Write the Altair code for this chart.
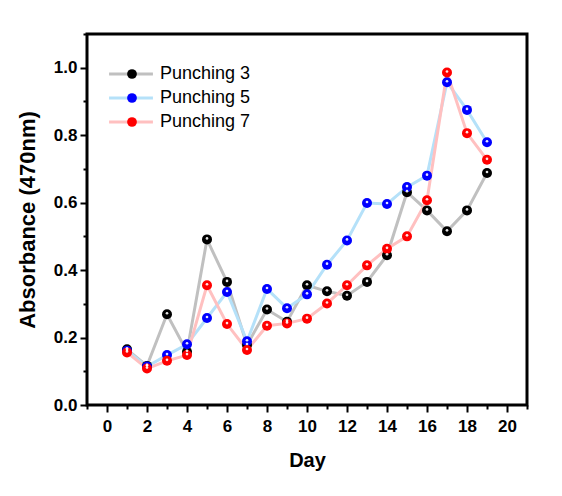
import altair as alt
import pandas as pd

days = list(range(1, 20))
p3 = [0.165, 0.116, 0.269, 0.158, 0.491, 0.365, 0.178, 0.283, 0.247, 0.355,
      0.337, 0.324, 0.365, 0.444, 0.631, 0.577, 0.515, 0.577, 0.688]
p5 = [0.161, 0.114, 0.148, 0.180, 0.258, 0.335, 0.189, 0.344, 0.287, 0.328,
      0.416, 0.488, 0.599, 0.596, 0.646, 0.680, 0.957, 0.875, 0.779]
p7 = [0.156, 0.108, 0.131, 0.148, 0.355, 0.240, 0.163, 0.235, 0.242, 0.256,
      0.301, 0.355, 0.414, 0.463, 0.500, 0.607, 0.986, 0.806, 0.727]
series = ["Punching 3", "Punching 5", "Punching 7"]
line_colors = ["#c0c0c0", "#b5e1f9", "#ffc0c0"]
point_colors = ["#000000", "#0000ff", "#ff0000"]
x_ticks = list(range(-1, 22))
y_ticks = [round(i * 0.1, 1) for i in range(0, 12)]

rows = []
for name, vals in zip(series, [p3, p5, p7]):
    for d, v in zip(days, vals):
        rows.append({"Day": d, "Absorbance": v, "Series": name})
df = pd.DataFrame(rows)

font = "Liberation Sans"

x = alt.X("Day:Q", scale=alt.Scale(domain=[-1, 21], nice=False, zero=False),
          axis=alt.Axis(values=x_ticks, title="Day", domain=False, grid=False,
                        labelExpr="datum.value % 2 === 0 && datum.value >= 0 && datum.value <= 20 ? format(datum.value, 'd') : ''",
                        labelOverlap=False, labelFont=font, labelFontSize=17,
                        labelFontWeight="bold", labelColor="black", labelPadding=6,
                        tickColor="black", tickWidth=2,
                        tickSize={"condition": {"test": "datum.value % 2 === 0 && datum.value >= 0", "value": 7}, "value": 4},
                        titleFont=font, titleFontSize=20, titleFontWeight="bold",
                        titleColor="black", titlePadding=16))
y = alt.Y("Absorbance:Q", scale=alt.Scale(domain=[0, 1.1], nice=False, zero=False),
          axis=alt.Axis(values=y_ticks, title="Absorbance (470nm)", domain=False, grid=False,
                        labelExpr="round(datum.value * 10) % 2 === 0 ? format(datum.value, '.1f') : ''",
                        labelOverlap=False, labelFont=font, labelFontSize=17,
                        labelFontWeight="bold", labelColor="black", labelPadding=3,
                        tickColor="black", tickWidth=2,
                        tickSize={"condition": {"test": "round(datum.value * 10) % 2 === 0", "value": 7}, "value": 4},
                        titleFont=font, titleFontSize=22, titleFontWeight="bold",
                        titleColor="black", titlePadding=14))

line_path = "M-4.5,0H4.5"

lines = alt.Chart(df).mark_line(strokeWidth=3).encode(
    x=x, y=y,
    stroke=alt.Stroke("Series:N", scale=alt.Scale(domain=series, range=line_colors),
                      legend=alt.Legend(orient="none", legendX=35, legendY=31, title=None,
                                        symbolType=line_path, symbolSize=95,
                                        symbolStrokeWidth=3, labelExpr="''",
                                        rowPadding=6, labelFontSize=18, labelFont=font,
                                        labelOffset=19)),
    detail="Series:N",
)
points = alt.Chart(df).mark_circle(size=100, opacity=1).encode(
    x=x, y=y,
    fill=alt.Fill("Series:N", scale=alt.Scale(domain=series, range=point_colors),
                  legend=alt.Legend(orient="none", legendX=36, legendY=31, title=None,
                                    symbolType="circle", symbolSize=95, symbolOpacity=1,
                                    symbolStrokeWidth=0,
                                    rowPadding=6, labelFontSize=18, labelFont=font,
                                    labelColor="black", labelOffset=19)),
)
highlights = alt.Chart(df).mark_circle(size=7, color="white", opacity=0.9, yOffset=-1).encode(
    x=x, y=y,
)

chart = alt.layer(lines, points, highlights).resolve_scale(
    stroke="independent", fill="independent"
).properties(
    width=440, height=371,
    background="white",
    autosize=alt.AutoSizeParams(type="none"),
    padding={"left": 79, "top": 26, "right": 27, "bottom": 83},
).configure_view(stroke="black", strokeWidth=3)

chart.save("out.html", embed_options={"renderer": "svg", "actions": False})
